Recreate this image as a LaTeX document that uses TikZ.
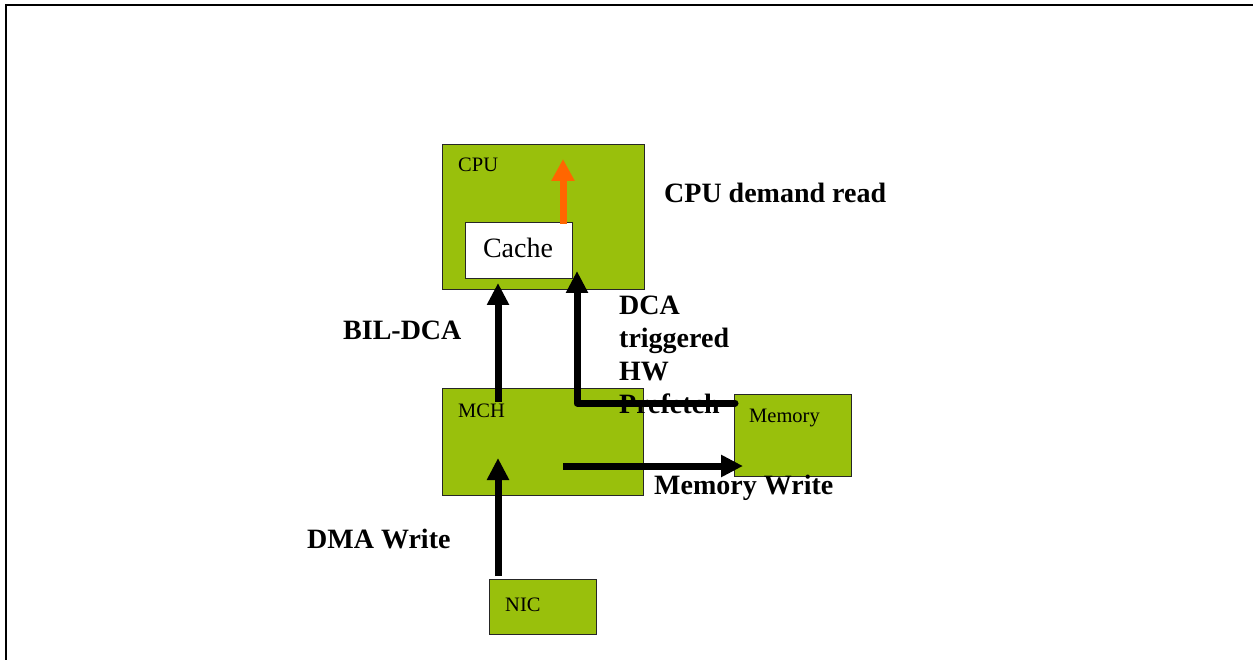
\documentclass[tikz,border=0pt]{standalone}
\usepackage{fontspec}
\setmainfont{Liberation Serif}
\usetikzlibrary{arrows.meta}
\definecolor{boxgreen}{RGB}{153,192,12}
\definecolor{arrorange}{RGB}{255,102,0}
\tikzset{
  gbox/.style={draw=black!85, line width=1.2pt, fill=boxgreen, anchor=north west, inner sep=0pt},
  wbox/.style={draw=black!85, line width=1.2pt, fill=white, anchor=north west, inner sep=0pt},
  boxlabel/.style={anchor=base west, inner sep=0pt, font=\fontsize{20.5}{24}\selectfont},
  biglabel/.style={anchor=base west, inner sep=0pt, font=\fontsize{28}{33}\selectfont\bfseries},
  arr/.style={line width=7pt, -{Triangle[length=22pt,width=21pt]}},
  oarr/.style={draw=arrorange, line width=7pt, -{Triangle[length=22pt,width=22pt]}},
}
\begin{document}
\begin{tikzpicture}[x=1pt,y=-1pt]
\useasboundingbox (0,0) rectangle (1253,660);
% frame
\draw[line width=2pt] (6,661) -- (6,5) -- (1254,5);
% boxes
\node[gbox, minimum width=202pt, minimum height=145pt] (cpu) at (442,144) {};
\node[wbox, minimum width=107pt, minimum height=56pt] (cache) at (465,222) {};
\node[gbox, minimum width=201pt, minimum height=107pt] (mch) at (442,388) {};
\node[gbox, minimum width=117pt, minimum height=82pt] (mem) at (734,394) {};
\node[gbox, minimum width=107pt, minimum height=55pt] (nic) at (489,579) {};
% box labels
\node[boxlabel] (cpul) at (458,172) {CPU};
\node[anchor=base, inner sep=0pt, font=\fontsize{28}{32}\selectfont] (cachel) at (518,258) {Cache};
\node[boxlabel] (mchl) at (458,417) {MCH};
\node[boxlabel] (meml) at (749,422) {Memory};
\node[boxlabel] (nicl) at (505,611) {NIC};
% big labels
\node[biglabel] (l1) at (664,203) {CPU demand read};
\node[biglabel] (l2) at (343,340) {BIL-DCA};
\node[biglabel] (l3a) at (619,315) {DCA};
\node[biglabel] (l3b) at (619,348) {triggered};
\node[biglabel] (l3c) at (619,380) {HW};
\node[biglabel] (l3d) at (619,413) {Prefetch};
\node[biglabel] (l4) at (654,494) {Memory Write};
\node[biglabel] (l5) at (307,548) {DMA Write};
% coordinates
\coordinate (o1) at (563,224);
\coordinate (o2) at (563,159);
\coordinate (b1) at (498,402);
\coordinate (b2) at (498,283);
\coordinate (p1) at (735,403);
\coordinate (p2) at (577,403);
\coordinate (p3) at (577,271);
\coordinate (w1) at (563,466);
\coordinate (w2) at (743,466);
\coordinate (d1) at (498,576);
\coordinate (d2) at (498,458);
% arrows
\draw[oarr] (o1) -- (o2);
\draw[arr] (b1) -- (b2);
\draw[arr, line cap=round, line join=round] (p1) -- (p2) -- (p3);
\draw[arr] (w1) -- (w2);
\draw[arr] (d1) -- (d2);
\end{tikzpicture}
\end{document}
